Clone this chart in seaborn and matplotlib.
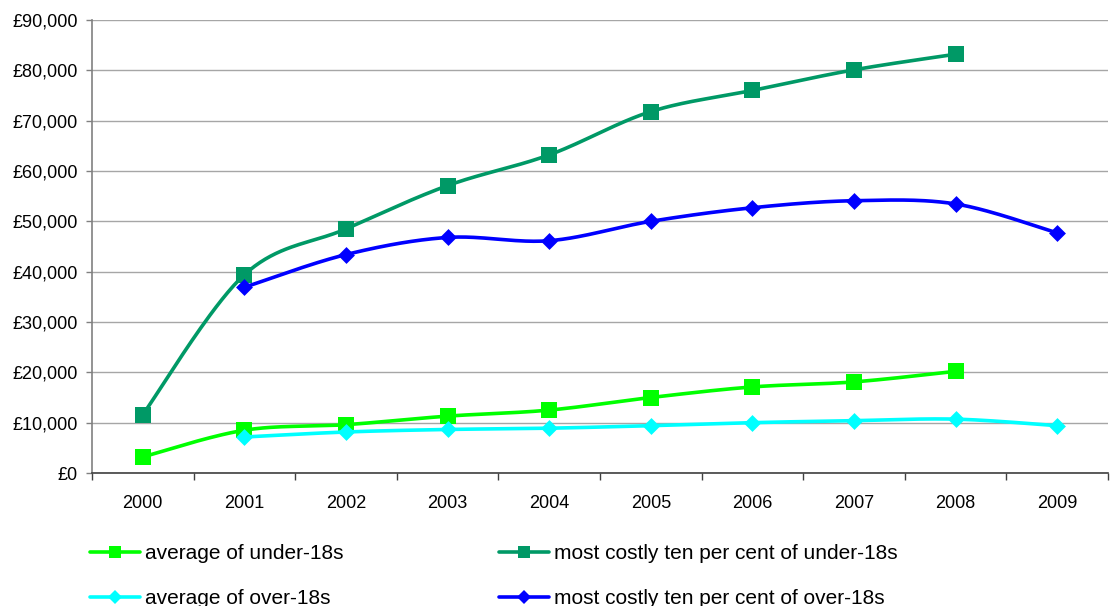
import numpy as np
import pandas as pd
import matplotlib
matplotlib.use("Agg")
import matplotlib.pyplot as plt
from matplotlib.lines import Line2D
from matplotlib.ticker import FuncFormatter, FixedLocator
import seaborn as sns

# Annual cost per young person (£)
years = ["2000", "2001", "2002", "2003", "2004", "2005", "2006", "2007", "2008", "2009"]
avg_under18 = [3200, 8500, 9600, 11300, 12500, 15000, 17100, 18100, 20200, None]
top10_under18 = [11600, 39400, 48500, 57100, 63200, 71800, 76000, 80100, 83200, None]
avg_over18 = [None, 7150, 8150, 8650, 8900, 9400, 10000, 10400, 10700, 9400]
top10_over18 = [None, 36900, 43400, 46800, 46150, 50000, 52700, 54100, 53450, 47700]

labels = [
    "average of under-18s",
    "most costly ten per cent of under-18s",
    "average of over-18s",
    "most costly ten per cent of over-18s",
]
series = [avg_under18, top10_under18, avg_over18, top10_over18]
colors = ["#00FF00", "#009966", "#00FFFF", "#0000FF"]
markers = ["s", "s", "D", "D"]
marker_sizes = [12, 12, 8.6, 8.6]
legend_marker_sizes = [9, 9, 7.2, 7.2]

sns.set_theme(style="white")
plt.rcParams["font.family"] = ["Liberation Sans", "DejaVu Sans"]
TICK_FS = 13
LEGEND_FS = 15


def smooth_curve(xs, ys, n=40):
    """Bezier smoothing through the points (Catmull-Rom style control points)."""
    xs = np.asarray(xs, float)
    ys = np.asarray(ys, float)
    px = np.concatenate([[xs[0]], xs, [xs[-1]]])
    py = np.concatenate([[ys[0]], ys, [ys[-1]]])
    out_x, out_y = [], []
    t = np.linspace(0, 1, n)
    for i in range(1, len(px) - 2):
        p0 = np.array([px[i], py[i]])
        p3 = np.array([px[i + 1], py[i + 1]])
        c1 = p0 + (np.array([px[i + 1], py[i + 1]]) - np.array([px[i - 1], py[i - 1]])) / 6
        c2 = p3 - (np.array([px[i + 2], py[i + 2]]) - np.array([px[i], py[i]])) / 6
        b = ((1 - t) ** 3)[:, None] * p0 + (3 * (1 - t) ** 2 * t)[:, None] * c1 \
            + (3 * (1 - t) * t ** 2)[:, None] * c2 + (t ** 3)[:, None] * p3
        out_x.extend(b[:, 0])
        out_y.extend(b[:, 1])
    return np.array(out_x), np.array(out_y)


fig = plt.figure(figsize=(11.12, 6.06), dpi=100)
ax = fig.add_axes([92 / 1112, 1 - 473 / 606, (1108 - 92) / 1112, (473 - 20) / 606])

for i, (vals, lab, col, mk, ms) in enumerate(zip(series, labels, colors, markers, marker_sizes)):
    idx = [k for k, v in enumerate(vals) if v is not None]
    xv = np.array(idx, float)
    yv = np.array([vals[k] for k in idx], float)
    cx, cy = smooth_curve(xv, yv)
    curve = pd.DataFrame({"x": cx, "y": cy})
    sns.lineplot(data=curve, x="x", y="y", ax=ax, color=col, lw=2.6,
                 estimator=None, sort=False, zorder=3 + 2 * i, legend=False)
    pts = pd.DataFrame({"x": xv, "y": yv})
    sns.scatterplot(data=pts, x="x", y="y", ax=ax, color=col, marker=mk,
                    s=ms ** 2, linewidth=0, zorder=4 + 2 * i, legend=False)

ax.set_xlim(-0.5, len(years) - 0.5)
ax.set_ylim(0, 90000)
ax.set_xlabel("")
ax.set_ylabel("")

ax.yaxis.set_major_locator(FixedLocator(np.arange(0, 90001, 10000)))
ax.yaxis.set_major_formatter(FuncFormatter(lambda v, p: f"£{v:,.0f}"))
ax.set_xticks(range(len(years)))
ax.set_xticklabels(years)
ax.set_xticks(np.arange(-0.5, len(years)), minor=True)

ax.grid(axis="y", color="#a6a6a6", lw=1, zorder=0)
ax.set_axisbelow(True)
for s in ["top", "right"]:
    ax.spines[s].set_visible(False)
ax.spines["left"].set_color("#808080")
ax.spines["left"].set_linewidth(1.2)
ax.spines["bottom"].set_color("#404040")
ax.spines["bottom"].set_linewidth(1.2)

ax.tick_params(axis="y", which="major", direction="out", length=4, width=1,
               color="#808080", pad=6, labelsize=TICK_FS, labelcolor="black", left=True)
ax.tick_params(axis="x", which="major", length=0, pad=15.5, labelsize=TICK_FS, labelcolor="black")
ax.tick_params(axis="x", which="minor", direction="out", length=5, width=1,
               color="#404040", bottom=True)

# Legend: two columns, each drawn as its own legend
def handle(i):
    return Line2D([], [], color=colors[i], lw=2.6, marker=markers[i],
                  markersize=legend_marker_sizes[i], markeredgewidth=0)

common = dict(loc="center left", frameon=False, fontsize=LEGEND_FS, handlelength=2.4,
              handletextpad=0.25, labelspacing=1.25, borderpad=0, borderaxespad=0,
              labelcolor="black")
leg1 = fig.legend([handle(0), handle(2)], [labels[0], labels[2]],
                  bbox_to_anchor=(90 / 1112, 1 - 576 / 606), **common)
leg2 = fig.legend([handle(1), handle(3)], [labels[1], labels[3]],
                  bbox_to_anchor=(499 / 1112, 1 - 576 / 606), **common)

fig.savefig("out.png", dpi=100, facecolor="white")
